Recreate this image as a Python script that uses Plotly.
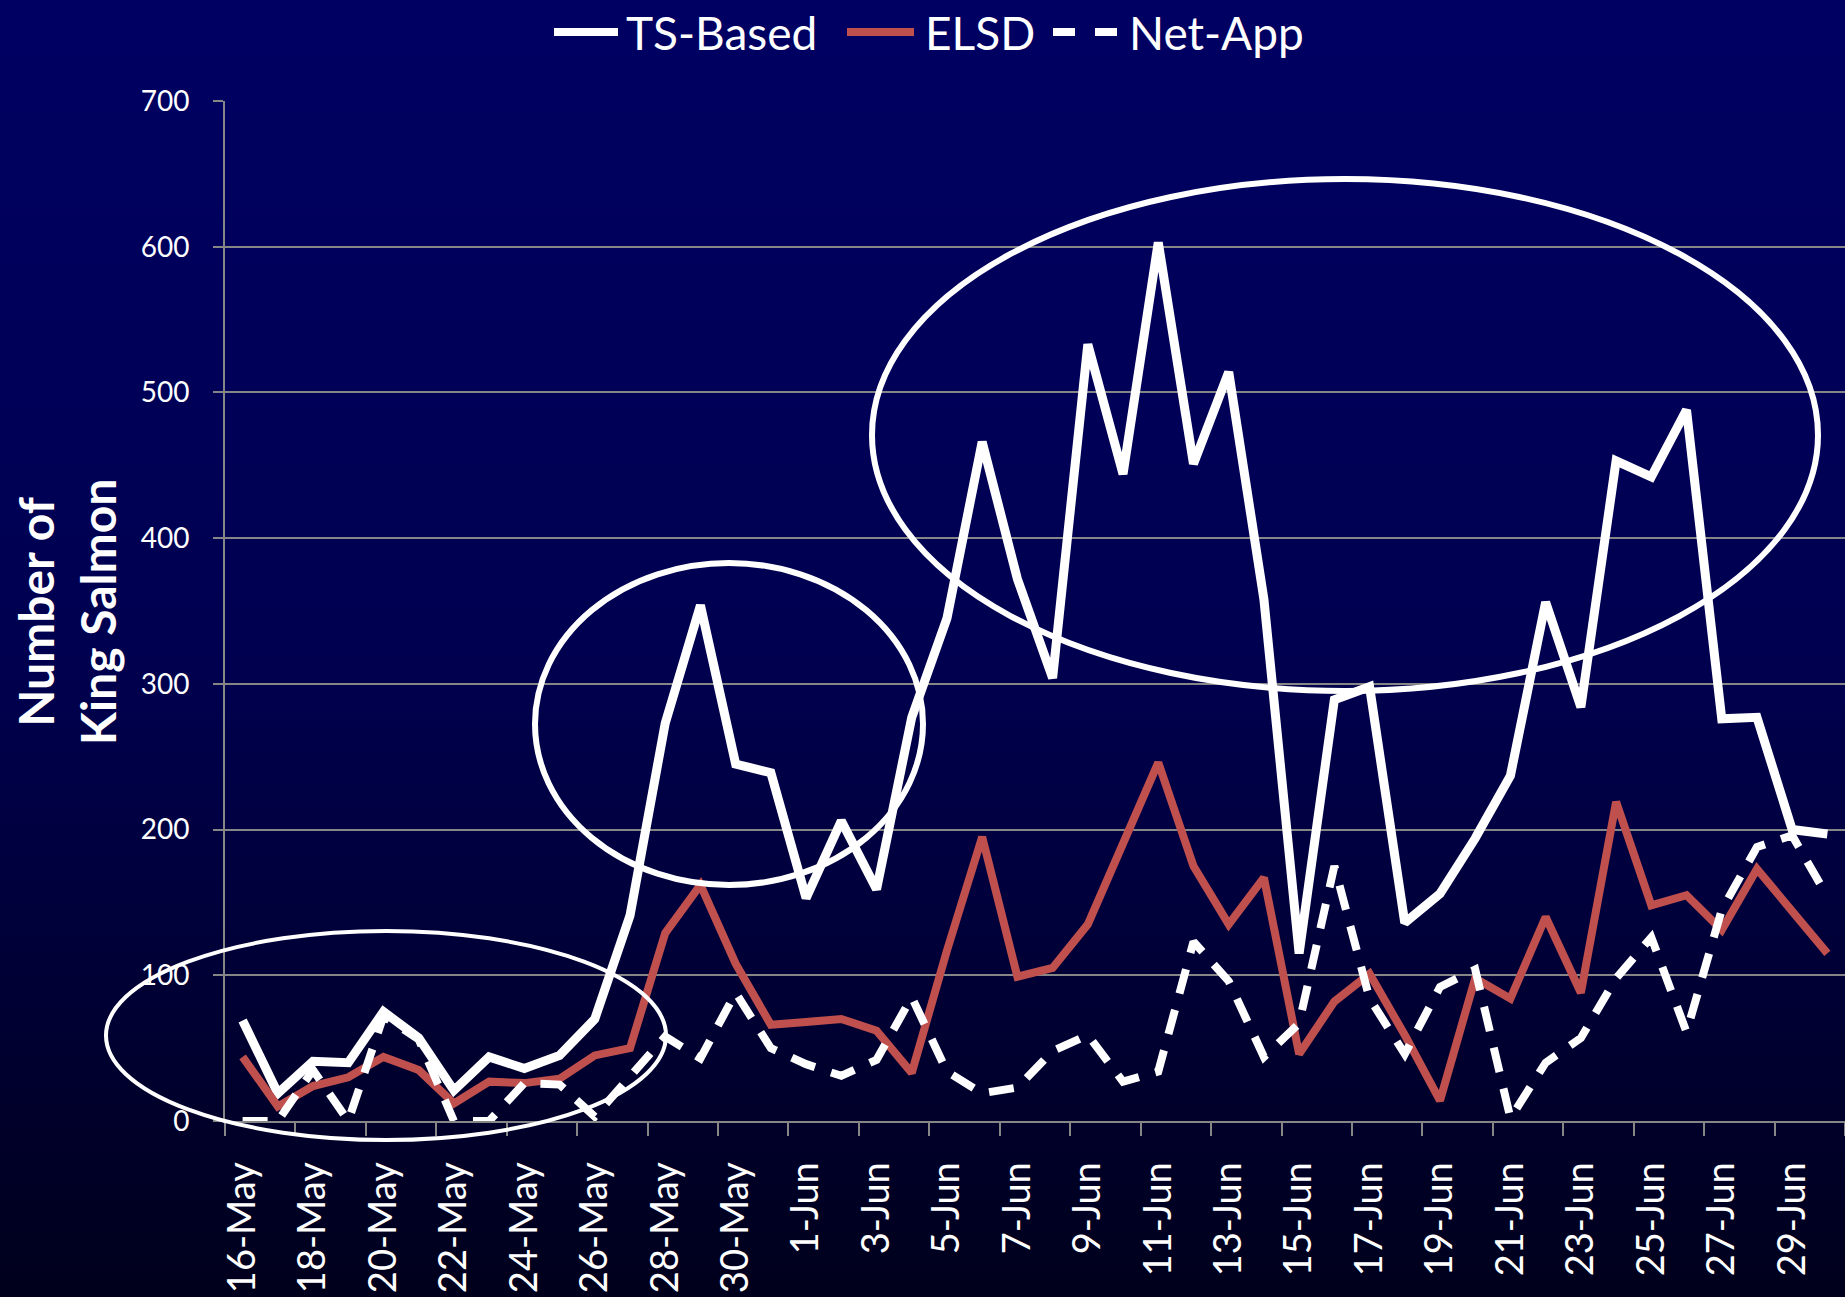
import base64

import plotly.graph_objects as go

# ---- data ----
dates = [
    "16-May", "17-May", "18-May", "19-May", "20-May", "21-May", "22-May", "23-May",
    "24-May", "25-May", "26-May", "27-May", "28-May", "29-May", "30-May", "31-May",
    "1-Jun", "2-Jun", "3-Jun", "4-Jun", "5-Jun", "6-Jun", "7-Jun", "8-Jun",
    "9-Jun", "10-Jun", "11-Jun", "12-Jun", "13-Jun", "14-Jun", "15-Jun", "16-Jun",
    "17-Jun", "18-Jun", "19-Jun", "20-Jun", "21-Jun", "22-Jun", "23-Jun", "24-Jun",
    "25-Jun", "26-Jun", "27-Jun", "28-Jun", "29-Jun", "30-Jun",
]
ts_based = [69, 19, 41, 40, 75, 57, 21, 44, 36, 45, 70, 141, 273, 354, 245, 239,
            153, 206, 159, 277, 345, 466, 372, 304, 533, 444, 603, 451, 514, 358,
            115, 289, 298, 136, 156, 194, 237, 356, 284, 453, 442, 488, 276, 277,
            200, 197]
elsd = [44, 10, 24, 30, 44, 35, 12, 27, 26, 29, 45, 50, 129, 162, 108, 66,
        68, 70, 62, 33, 117, 195, 99, 105, 135, 190, 246, 175, 135, 167,
        46, 82, 101, 59, 14, 98, 84, 140, 88, 219, 148, 155, 131, 173,
        144, 115]
net_app = [0, 0, 35, 0, 72, 56, 0, 0, 26, 25, 3, 30, 58, 43, 88, 50,
           39, 31, 42, 85, 34, 19, 23, 48, 59, 27, 34, 123, 96, 44,
           67, 175, 84, 46, 92, 104, 2, 40, 57, 98, 126, 61, 145, 188,
           196, 154]

W, H = 1845, 1297
L, R, T, B = 225, 0, 101, 176
PW, PH = W - L - R, H - T - B

RED = "#C0504D"
GRID = "#868686"
FONT = "Lato"


def px_to_paper(x, y):
    return (x - L) / PW, (H - B - y) / PH


# vertical navy gradient behind everything
svg = (
    "<svg xmlns='http://www.w3.org/2000/svg' width='10' height='100' preserveAspectRatio='none'>"
    "<defs><linearGradient id='g' x1='0' y1='0' x2='0' y2='1'>"
    "<stop offset='0' stop-color='#000063'/>"
    "<stop offset='0.5' stop-color='#000050'/>"
    "<stop offset='1' stop-color='#00001c'/>"
    "</linearGradient></defs><rect width='10' height='100' fill='url(#g)'/></svg>"
)
bg_src = "data:image/svg+xml;base64," + base64.b64encode(svg.encode()).decode()

fig = go.Figure()
fig.add_trace(go.Scatter(x=dates, y=ts_based, mode="lines", name="TS-Based",
                         line=dict(color="white", width=9)))
fig.add_trace(go.Scatter(x=dates, y=elsd, mode="lines", name="ELSD",
                         line=dict(color=RED, width=8)))
fig.add_trace(go.Scatter(x=dates, y=net_app, mode="lines", name="Net-App",
                         line=dict(color="white", width=8, dash="25px,17px")))

bx0, by1 = px_to_paper(0, 0)
bx1, by0 = px_to_paper(W, H)

shapes = []
# highlight ellipses (pixel boxes from the reference)
for (x0, y0, x1, y1, w) in [(106, 931, 666, 1140, 4),
                            (535, 563, 923, 885, 6),
                            (872, 179, 1818, 691, 6)]:
    px0, py1 = px_to_paper(x0, y0)
    px1, py0 = px_to_paper(x1, y1)
    shapes.append(dict(type="circle", xref="paper", yref="paper",
                       x0=px0, x1=px1, y0=py0, y1=py1,
                       line=dict(color="white", width=w)))

# custom legend
annotations = []
legend_items = [("TS-Based", "white", "solid", 554, 618, 627),
                ("ELSD", RED, "solid", 847, 914, 926),
                ("Net-App", "white", "22px,20px", 1053, 1117, 1130)]
for name, color, dash, lx0, lx1, tx in legend_items:
    a0, ly = px_to_paper(lx0, 32)
    a1, _ = px_to_paper(lx1, 32)
    shapes.append(dict(type="line", xref="paper", yref="paper",
                       x0=a0, x1=a1, y0=ly, y1=ly,
                       line=dict(color=color, width=8, dash=dash)))
    ax, _ = px_to_paper(tx - 3, 32)
    annotations.append(dict(text=name, xref="paper", yref="paper", x=ax, y=ly,
                            xanchor="left", yanchor="middle", showarrow=False,
                            font=dict(family=FONT, size=46, color="white")))

tx, ty = px_to_paper(66, 612)
annotations.append(dict(text="Number of<br>King Salmon", xref="paper", yref="paper",
                        x=tx, y=ty, xanchor="center", yanchor="middle",
                        textangle=-90, showarrow=False,
                        font=dict(family=FONT, size=48, color="white", weight="bold")))

fig.update_layout(
    width=W, height=H,
    margin=dict(l=L, r=R, t=T, b=B, pad=0),
    paper_bgcolor="#000040",
    plot_bgcolor="rgba(0,0,0,0)",
    showlegend=False,
    images=[dict(source=bg_src, xref="paper", yref="paper", x=bx0, y=by1,
                 sizex=bx1 - bx0, sizey=by1 - by0, xanchor="left", yanchor="top",
                 sizing="stretch", layer="below")],
    shapes=shapes,
    annotations=annotations,
    font=dict(family=FONT, color="white"),
)
fig.update_xaxes(
    type="category", range=[-0.5, len(dates) - 0.5],
    tickmode="linear", tick0=0, dtick=2, tickson="boundaries",
    ticks="outside", ticklen=13, tickwidth=2, tickcolor=GRID,
    tickangle=-90, ticklabelstandoff=24,
    tickfont=dict(family=FONT, size=38, color="white"),
    showgrid=False, showline=True, linecolor=GRID, linewidth=2, zeroline=False,
)
fig.update_yaxes(
    range=[0, 700], tickmode="linear", tick0=0, dtick=100,
    ticks="outside", ticklen=10, tickwidth=2, tickcolor=GRID,
    ticklabelstandoff=18,
    tickfont=dict(family=FONT, size=28, color="white"),
    showgrid=True, gridcolor=GRID, gridwidth=2,
    showline=True, linecolor=GRID, linewidth=2, zeroline=False,
)

fig.write_html("out.html", config={"displayModeBar": False},
               post_script="document.body.style.margin='0';document.body.style.overflow='hidden';")
